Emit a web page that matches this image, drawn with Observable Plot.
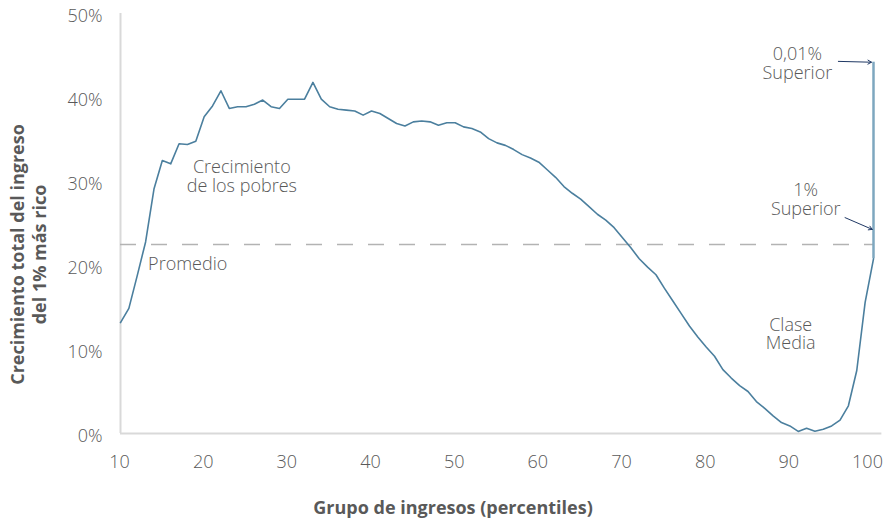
<!DOCTYPE html>
<html>
<head>
<meta charset="utf-8">
<script src="https://cdn.jsdelivr.net/npm/d3@7"></script>
<script src="https://cdn.jsdelivr.net/npm/@observablehq/plot@0.6"></script>
<style>
  html, body { margin: 0; padding: 0; background: #fff; }
  #chart svg { display: block; }
</style>
</head>
<body>
<div id="chart"></div>
<script>
// Income group (percentile) and cumulative income growth (%)
const percentiles = [
  10, 11, 12, 13, 14, 15, 16, 17, 18, 19,
  20, 21, 22, 23, 24, 25, 26, 27, 28, 29,
  30, 31, 32, 33, 34, 35, 36, 37, 38, 39,
  40, 41, 42, 43, 44, 45, 46, 47, 48, 49,
  50, 51, 52, 53, 54, 55, 56, 57, 58, 59,
  60, 61, 62, 63, 64, 65, 66, 67, 68, 69,
  70, 71, 72, 73, 74, 75, 76, 77, 78, 79,
  80, 81, 82, 83, 84, 85, 86, 87, 88, 89,
  90, 91, 92, 93, 94, 95, 96, 97, 98, 99,
  100
];
const growth = [
  13.2, 14.9, 18.8, 22.8, 29.1, 32.5, 32.1, 34.5, 34.4, 34.8,
  37.7, 39.0, 40.8, 38.7, 38.9, 38.9, 39.2, 39.7, 38.9, 38.7,
  39.8, 39.8, 39.8, 41.8, 39.8, 38.9, 38.6, 38.5, 38.4, 37.9,
  38.4, 38.1, 37.5, 36.9, 36.6, 37.1, 37.2, 37.1, 36.7, 37.0,
  37.0, 36.5, 36.3, 35.9, 35.1, 34.6, 34.3, 33.8, 33.2, 32.8,
  32.3, 31.4, 30.5, 29.4, 28.6, 27.9, 27.0, 26.1, 25.4, 24.5,
  23.3, 22.1, 20.8, 19.8, 18.9, 17.3, 15.8, 14.3, 12.8, 11.5,
  10.3, 9.2, 7.6, 6.6, 5.7, 5.0, 3.8, 3.0, 2.1, 1.3,
  0.9, 0.25, 0.63, 0.27, 0.5, 0.9, 1.6, 3.3, 7.5, 15.6,
  20.8
];

// Average growth and the top-end growth (top 0.01%)
const average = 22.5;
const topPointOne = 44.2;   // 0,01% superior
const topOnePointer = 24.3; // where the 1% label points on the top bar

// Axis ticks
const xTicks = [10, 20, 30, 40, 50, 60, 70, 80, 90, 100];
const yTicks = [0, 10, 20, 30, 40, 50];

const rows = percentiles.map((p, i) => ({p, g: growth[i]}));

const FONT = '"Open Sans", "Noto Sans", sans-serif';
const TEXT = "#595959";
const LINE = "#4b7f9e";

const lastTick = xTicks[xTicks.length - 1];

const chart = Plot.plot({
  width: 884,
  height: 521,
  marginLeft: 120,
  marginRight: 11,
  marginTop: 13,
  marginBottom: 88,
  x: {domain: [10, 100]},
  y: {domain: [0, 50]},
  style: {fontFamily: FONT, fontSize: "18px", color: TEXT, background: "#fff", overflow: "visible"},
  marks: [
    // axis lines
    Plot.ruleX([10], {y1: 0, y2: 50, stroke: "#d9d9d9", strokeWidth: 2}),
    Plot.ruleY([0], {x1: 10, x2: 101, stroke: "#d9d9d9", strokeWidth: 2}),
    Plot.axisY(yTicks, {tickSize: 0, tickPadding: 18, dy: 3, tickFormat: d => d + "%", label: null, fontWeight: 300, fill: TEXT}),
    Plot.axisX(xTicks.filter(d => d !== lastTick), {tickSize: 0, tickPadding: 22, dx: -1, label: null, fontWeight: 300, fill: TEXT}),
    Plot.axisX([lastTick], {tickSize: 0, tickPadding: 22, dx: -6, label: null, fontWeight: 300, fill: TEXT}),
    // average
    Plot.ruleY([average], {x1: 10, x2: 100, stroke: "#b3b3b3", strokeWidth: 1.6, strokeDasharray: "16,15"}),
    // top-end bar
    Plot.ruleX([100], {y1: growth[growth.length - 1], y2: topPointOne, stroke: "#7ea7bf", strokeWidth: 2.5}),
    // growth incidence curve
    Plot.line(rows, {x: "p", y: "g", stroke: LINE, strokeWidth: 1.6}),
    // pointers
    Plot.arrow([{x1: 95.8, y1: topPointOne + 0.1, x2: 99.75, y2: topPointOne}], {
      x1: "x1", y1: "y1", x2: "x2", y2: "y2", stroke: "#1f3864", strokeWidth: 1, headLength: 6
    }),
    Plot.arrow([{x1: 96.6, y1: 25.7, x2: 99.85, y2: topOnePointer}], {
      x1: "x1", y1: "y1", x2: "x2", y2: "y2", stroke: "#1f3864", strokeWidth: 1, headLength: 6
    }),
    // annotations
    Plot.text(["Crecimiento\nde los pobres"], {x: 24.5, y: 30.6, text: d => d, fontWeight: 300, fill: TEXT, lineHeight: 1.05}),
    Plot.text(["Promedio"], {x: 13.3, y: 20.2, text: d => d, textAnchor: "start", fontWeight: 300, fill: TEXT}),
    Plot.text(["Clase\nMedia"], {x: 90.1, y: 11.85, text: d => d, fontWeight: 300, fill: TEXT, lineHeight: 1.05}),
    Plot.text(["0,01%\nSuperior"], {x: 90.9, y: 44.1, text: d => d, fontWeight: 300, fill: TEXT, lineHeight: 1.05}),
    Plot.text(["1%\nSuperior"], {x: 91.9, y: 27.9, text: d => d, fontWeight: 300, fill: TEXT, lineHeight: 1.05}),
    // axis titles
    Plot.text(["Crecimiento total del ingreso\ndel 1% más rico"], {
      frameAnchor: "left", textAnchor: "middle", lineAnchor: "middle",
      text: d => d, rotate: -90, dx: -93, dy: 31,
      fontWeight: "bold", fontSize: 18, fill: TEXT, lineHeight: 1.22
    }),
    Plot.text(["Grupo de ingresos (percentiles)"], {
      frameAnchor: "bottom", textAnchor: "middle", lineAnchor: "middle",
      text: d => d, dx: -44, dy: 75, fontWeight: "bold", fontSize: 18, fill: TEXT
    })
  ]
});

document.getElementById("chart").appendChild(chart);
</script>
</body>
</html>
